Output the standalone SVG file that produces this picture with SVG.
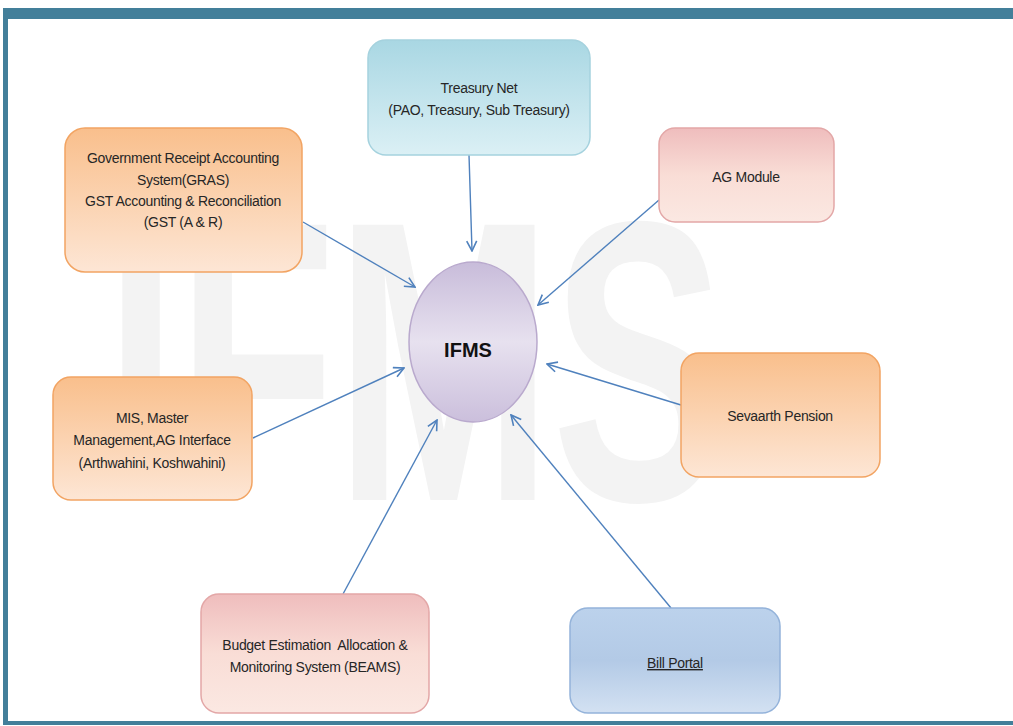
<svg xmlns="http://www.w3.org/2000/svg" width="1013" height="726" viewBox="0 0 1013 726">
<defs>
<linearGradient id="gOrange" x1="0" y1="0" x2="0" y2="1"><stop offset="0" stop-color="#f9bf8c"/><stop offset="1" stop-color="#fde6d5"/></linearGradient>
<linearGradient id="gPink" x1="0" y1="0" x2="0" y2="1"><stop offset="0" stop-color="#efbdbd"/><stop offset="0.5" stop-color="#f9ddd6"/><stop offset="1" stop-color="#fbe8e2"/></linearGradient>
<linearGradient id="gCyan" x1="0" y1="0" x2="0" y2="1"><stop offset="0" stop-color="#a9d7e3"/><stop offset="1" stop-color="#dbf0f5"/></linearGradient>
<linearGradient id="gBlue" x1="0" y1="0" x2="0" y2="1"><stop offset="0" stop-color="#bcd2ec"/><stop offset="0.5" stop-color="#b3cae6"/><stop offset="1" stop-color="#d3e1f2"/></linearGradient>
<linearGradient id="gLav" x1="0" y1="0" x2="0" y2="1"><stop offset="0" stop-color="#c8bcda"/><stop offset="0.5" stop-color="#e7e1ef"/><stop offset="1" stop-color="#cbbfdc"/></linearGradient>
<marker id="arr" viewBox="0 0 12 12" refX="11" refY="6" markerWidth="12" markerHeight="12" markerUnits="userSpaceOnUse" orient="auto">
<path d="M1,1 L11,6 L1,11" fill="none" stroke="#4f81bd" stroke-width="1.6"/>
</marker>
<style>
.t{font-family:"Liberation Sans",Arial,sans-serif;font-size:14px;fill:#262626;text-anchor:middle;letter-spacing:-0.3px}
.orange{fill:url(#gOrange);stroke:#f2a463;stroke-width:1.5}
.pink{fill:url(#gPink);stroke:#e3a7a7;stroke-width:1.5}
.cyan{fill:url(#gCyan);stroke:#a5d2de;stroke-width:1.5}
.blue{fill:url(#gBlue);stroke:#94b3da;stroke-width:1.5}
.c{stroke:#4f81bd;stroke-width:1.4;fill:none;marker-end:url(#arr)}
</style>
</defs>
<rect x="0" y="0" width="1013" height="726" fill="#ffffff"/>
<rect x="3" y="8" width="1015" height="717" fill="#437f9a"/>
<rect x="8" y="19" width="1010" height="702" fill="#ffffff"/>
<text x="105" y="500" font-family="Liberation Sans,Arial,sans-serif" font-weight="bold" font-size="400" fill="#f3f3f3" textLength="620" lengthAdjust="spacingAndGlyphs">IFMS</text>
<g id="connectors">
<line class="c" x1="469" y1="155" x2="472" y2="251"/>
<line class="c" x1="303" y1="222" x2="415" y2="287"/>
<line class="c" x1="659" y1="200" x2="538" y2="305"/>
<line class="c" x1="253" y1="438" x2="404" y2="368"/>
<line class="c" x1="681" y1="405" x2="547" y2="364"/>
<line class="c" x1="343" y1="594" x2="437" y2="420"/>
<line class="c" x1="671" y1="608" x2="511" y2="415"/>
</g>
<g id="treasury">
<rect class="cyan" x="368" y="40" width="222" height="115" rx="18"/>
<text class="t" x="479" y="93">Treasury Net</text>
<text class="t" x="479" y="115">(PAO, Treasury, Sub Treasury)</text>
</g>
<g id="gras">
<rect class="orange" x="65" y="128" width="237" height="144" rx="20"/>
<text class="t" x="183" y="163">Government Receipt Accounting</text>
<text class="t" x="183" y="185">System(GRAS)</text>
<text class="t" x="183" y="206">GST Accounting &amp; Reconciliation</text>
<text class="t" x="183" y="227">(GST (A &amp; R)</text>
</g>
<g id="ag">
<rect class="pink" x="659" y="128" width="175" height="94" rx="16"/>
<text class="t" x="746" y="182">AG Module</text>
</g>
<g id="ifms">
<ellipse cx="473" cy="342" rx="64" ry="80" fill="url(#gLav)" stroke="#b9a9cd" stroke-width="1.5"/>
<text x="468" y="357" font-family="Liberation Sans,Arial,sans-serif" font-weight="bold" font-size="20" fill="#111" text-anchor="middle">IFMS</text>
</g>
<g id="mis">
<rect class="orange" x="53" y="377" width="199" height="123" rx="18"/>
<text class="t" x="152" y="423">MIS, Master</text>
<text class="t" x="152" y="445">Management,AG Interface</text>
<text class="t" x="152" y="468">(Arthwahini, Koshwahini)</text>
</g>
<g id="sevaarth">
<rect class="orange" x="681" y="353" width="199" height="124" rx="18"/>
<text class="t" x="780" y="421">Sevaarth Pension</text>
</g>
<g id="beams">
<rect class="pink" x="201" y="594" width="228" height="119" rx="18"/>
<text class="t" x="315" y="650" xml:space="preserve">Budget Estimation  Allocation &amp;</text>
<text class="t" x="315" y="672">Monitoring System (BEAMS)</text>
</g>
<g id="bill">
<rect class="blue" x="570" y="608" width="210" height="105" rx="18"/>
<text class="t" x="675" y="668" text-decoration="underline">Bill Portal</text>
</g>
</svg>
